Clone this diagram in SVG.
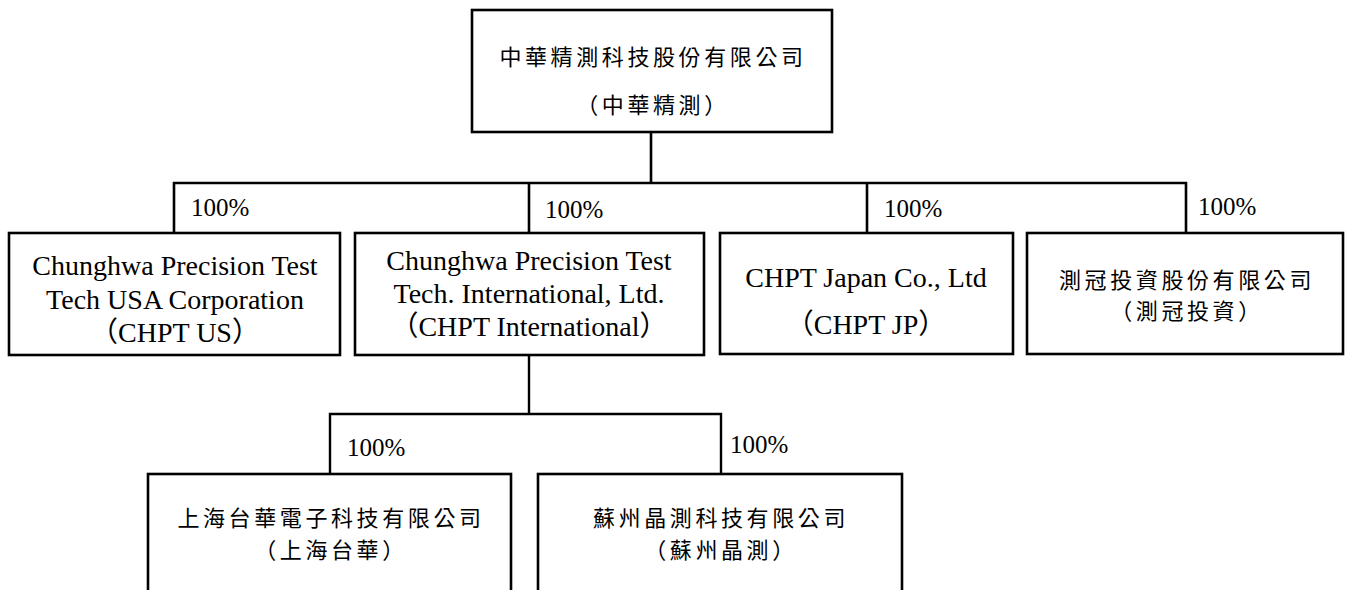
<svg xmlns="http://www.w3.org/2000/svg" width="1349" height="590" viewBox="0 0 1349 590">
<style>
.box{fill:#fff;stroke:#000;stroke-width:2.6}
.con{fill:none;stroke:#000;stroke-width:2.4}
.en{font-family:"Liberation Serif","Noto Sans CJK TC",serif;font-size:28px;fill:#000;text-anchor:middle}
.cjk{font-family:"Noto Sans CJK TC",sans-serif;font-size:22px;fill:#000;text-anchor:middle;letter-spacing:3.6px}
.pct{font-family:"Liberation Serif",serif;font-size:25px;fill:#000}
</style>
<rect width="1349" height="590" fill="#fff"/>
<g id="connectors">
<path class="con" d="M651 132V183M174 233V183H1186V233M529 183V233M867 183V233" style="stroke-width:2.6"/>
<path class="con" d="M529 355V414M330 474V414H721V474"/>
<text class="pct" x="191" y="216">100%</text>
<text class="pct" x="545" y="218">100%</text>
<text class="pct" x="884" y="217">100%</text>
<text class="pct" x="1198" y="215">100%</text>
<text class="pct" x="347" y="456">100%</text>
<text class="pct" x="730" y="453">100%</text>
</g>
<g id="node-chpt">
<rect class="box" x="472" y="10" width="360" height="122"/>
<text class="cjk" x="653" y="65">中華精測科技股份有限公司</text>
<text class="cjk" x="653" y="113">（中華精測）</text>
</g>
<g id="node-us">
<rect class="box" x="9" y="233" width="331" height="122"/>
<text class="en" x="175" y="275">Chunghwa Precision Test</text>
<text class="en" x="175" y="309">Tech USA Corporation</text>
<text class="en" x="175" y="342">（CHPT US）</text>
</g>
<g id="node-intl">
<rect class="box" x="355" y="233" width="349" height="122"/>
<text class="en" x="529" y="270">Chunghwa Precision Test</text>
<text class="en" x="529" y="303">Tech. International, Ltd.</text>
<text class="en" x="529" y="336">（CHPT International）</text>
</g>
<g id="node-jp">
<rect class="box" x="720" y="233" width="293" height="121"/>
<text class="en" x="866" y="287">CHPT Japan Co., Ltd</text>
<text class="en" x="866" y="334">（CHPT JP）</text>
</g>
<g id="node-inv">
<rect class="box" x="1027" y="233" width="316" height="121"/>
<text class="cjk" x="1187" y="288">測冠投資股份有限公司</text>
<text class="cjk" x="1187" y="319">（測冠投資）</text>
</g>
<g id="node-sh">
<rect class="box" x="148" y="474" width="363" height="150"/>
<text class="cjk" x="331" y="526">上海台華電子科技有限公司</text>
<text class="cjk" x="331" y="558">（上海台華）</text>
</g>
<g id="node-sz">
<rect class="box" x="538" y="474" width="364" height="150"/>
<text class="cjk" x="721" y="526">蘇州晶測科技有限公司</text>
<text class="cjk" x="721" y="558">（蘇州晶測）</text>
</g>
</svg>
